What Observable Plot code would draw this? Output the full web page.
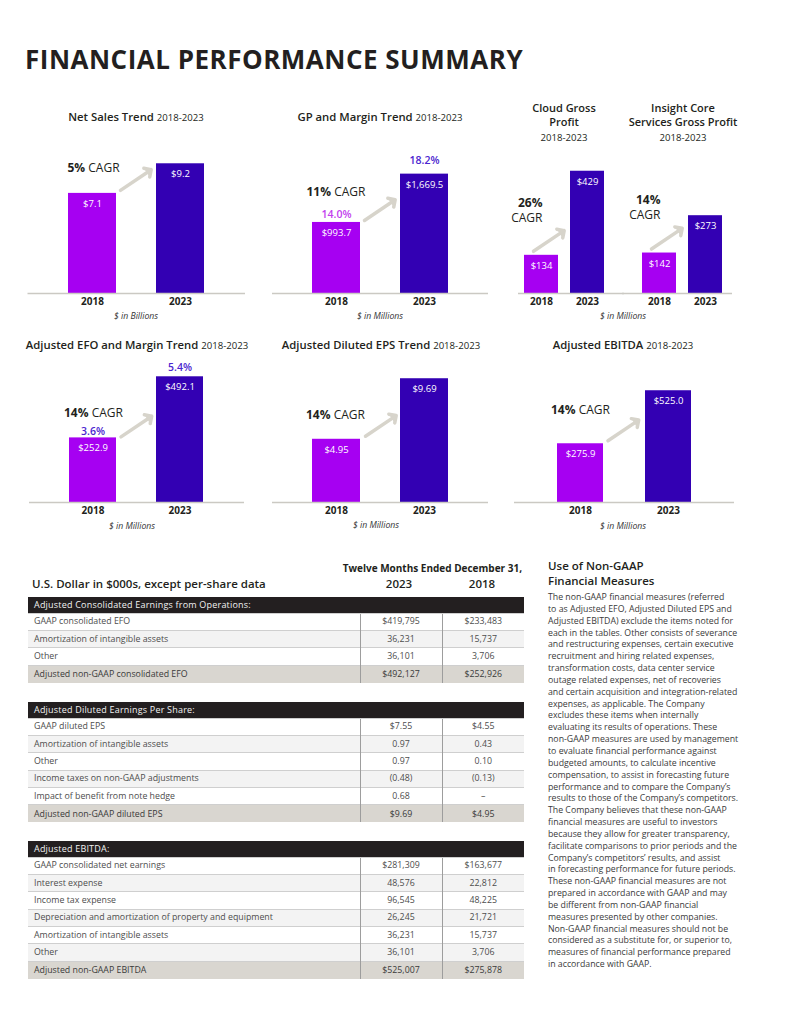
<!DOCTYPE html>
<html>
<head>
<meta charset="utf-8">
<script src="https://cdn.jsdelivr.net/npm/d3@7"></script>
<script src="https://cdn.jsdelivr.net/npm/@observablehq/plot@0.6"></script>
<style>
  body { margin: 0; background: #fff; font-family: "Open Sans", sans-serif; color: #231f20; }
  #page { position: relative; width: 786px; height: 1024px; overflow: hidden; background: #fff; }
  .chart { position: absolute; }
  .chart g[aria-label="x-axis tick label"] { font-weight: 700; font-size: 10px; }
  .t { position: absolute; white-space: nowrap; line-height: 1.2; }
  .c { transform: translate(-50%, -50%); text-align: center; }
  .l { transform: translate(0, -50%); }
  .r { transform: translate(-100%, -50%); text-align: right; }
  .ctitle { font-size: 11.3px; font-weight: 600; }
  .ctitle span { font-size: 9.6px; font-weight: 400; }
  .multi { line-height: 14.5px; font-size: 11px; }
  .cap { font-size: 8.7px; font-style: italic; color: #333; }
  .pagetitle { position: absolute; left: 25px; top: 46px; font-size: 26px; line-height: 1; font-weight: 700; letter-spacing: 0.5px; color: #231f20; white-space: nowrap; }
  table.fin { position: absolute; left: 28px; width: 496px; border-collapse: collapse; table-layout: fixed; font-size: 8.8px; color: #4d4d4d; }
  table.fin th { background: #231f20; color: #f2f2f2; font-weight: 400; text-align: left; height: 16px; padding: 0 0 0 6px; font-size: 9px; box-sizing: border-box; letter-spacing: 0.2px; }
  table.fin tr { height: 17.4px; }
  table.fin td { height: 17.4px; padding: 0 0 0 6px; border-top: 1px solid #cfcfcf; box-sizing: border-box; line-height: 1; }
  table.fin td.v { text-align: center; padding: 0; border-left: 1px solid #9d9d9d; }
  table.fin tr.alt td { background: #f3f3f3; }
  table.fin tr.total td { background: #d9d6d0; color: #3a3a3a; }
  .thead { font-weight: 600; font-size: 11.5px; color: #231f20; }
  .tsup { font-weight: 700; font-size: 10px; color: #231f20; }
  .sidehead { position: absolute; left: 548px; top: 558px; font-size: 11.5px; font-weight: 600; line-height: 15px; color: #231f20; white-space: nowrap; }
  .sidebody { position: absolute; left: 548px; top: 592px; font-size: 8.75px; line-height: 11.84px; color: #3a3a3a; white-space: nowrap; }
</style>
</head>
<body>
<div id="page"></div>
<script>
// ---------------- data ----------------
const years = ["2018", "2023"];
const netSales = [7.1, 9.2];                 // $ in billions
const grossProfit = [993.7, 1669.5];         // $ in millions
const grossMargin = [14.0, 18.2];            // %
const cloudGrossProfit = [134, 429];         // $ in millions
const coreServicesGrossProfit = [142, 273];  // $ in millions
const adjustedEFO = [252.9, 492.1];          // $ in millions
const efoMargin = [3.6, 5.4];                // %
const adjustedEPS = [4.95, 9.69];
const adjustedEBITDA = [275.9, 525.0];       // $ in millions
const cagrNetSales = 5, cagrGP = 11, cagrCloud = 26, cagrCore = 14, cagrEFO = 14, cagrEPS = 14, cagrEBITDA = 14;

const tableYears = ["2023", "2018"];
const efoLabels = ["GAAP consolidated EFO", "Amortization of intangible assets", "Other", "Adjusted non-GAAP consolidated EFO"];
const efo2023 = ["$419,795", "36,231", "36,101", "$492,127"];
const efo2018 = ["$233,483", "15,737", "3,706", "$252,926"];
const epsLabels = ["GAAP diluted EPS", "Amortization of intangible assets", "Other", "Income taxes on non-GAAP adjustments", "Impact of benefit from note hedge", "Adjusted non-GAAP diluted EPS"];
const eps2023 = ["$7.55", "0.97", "0.97", "(0.48)", "0.68", "$9.69"];
const eps2018 = ["$4.55", "0.43", "0.10", "(0.13)", "–", "$4.95"];
const ebitdaLabels = ["GAAP consolidated net earnings", "Interest expense", "Income tax expense", "Depreciation and amortization of property and equipment", "Amortization of intangible assets", "Other", "Adjusted non-GAAP EBITDA"];
const ebitda2023 = ["$281,309", "48,576", "96,545", "26,245", "36,231", "36,101", "$525,007"];
const ebitda2018 = ["$163,677", "22,812", "48,225", "21,721", "15,737", "3,706", "$275,878"];

const nonGaapLines = [
  "The non-GAAP financial measures (referred",
  "to as Adjusted EFO, Adjusted Diluted EPS and",
  "Adjusted EBITDA) exclude the items noted for",
  "each in the tables. Other consists of severance",
  "and restructuring expenses, certain executive",
  "recruitment and hiring related expenses,",
  "transformation costs, data center service",
  "outage related expenses, net of recoveries",
  "and certain acquisition and integration-related",
  "expenses, as applicable. The Company",
  "excludes these items when internally",
  "evaluating its results of operations. These",
  "non-GAAP measures are used by management",
  "to evaluate financial performance against",
  "budgeted amounts, to calculate incentive",
  "compensation, to assist in forecasting future",
  "performance and to compare the Company’s",
  "results to those of the Company’s competitors.",
  "The Company believes that these non-GAAP",
  "financial measures are useful to investors",
  "because they allow for greater transparency,",
  "facilitate comparisons to prior periods and the",
  "Company’s competitors’ results, and assist",
  "in forecasting performance for future periods.",
  "These non-GAAP financial measures are not",
  "prepared in accordance with GAAP and may",
  "be different from non-GAAP financial",
  "measures presented by other companies.",
  "Non-GAAP financial measures should not be",
  "considered as a substitute for, or superior to,",
  "measures of financial performance prepared",
  "in accordance with GAAP."
];

// ---------------- styles ----------------
const barColors = ["#a600f2", "#3300b3"];
const marginMagenta = "#c23fee";
const marginBlue = "#4b25d0";
const arrowColor = "#d7d4cb";
const ruleColor = "#cbc9c3";
const page = document.getElementById("page");

function boldCagr(svg) {
  svg.querySelectorAll("text").forEach(t => {
    if (!t.textContent.includes("CAGR")) return;
    const spans = t.querySelectorAll("tspan");
    if (spans.length) { spans[0].setAttribute("font-weight", "700"); return; }
    const [pct, word] = t.textContent.split(" ");
    t.textContent = "";
    const ns = "http://www.w3.org/2000/svg";
    const a = document.createElementNS(ns, "tspan");
    a.setAttribute("font-weight", "700"); a.textContent = pct;
    const b = document.createElementNS(ns, "tspan");
    b.textContent = " " + word;
    t.append(a, b);
  });
}

function makeChart(opt) {
  const L = opt.layout;
  const rows = [];
  opt.series.forEach(s => years.forEach((yr, i) => rows.push({
    group: s.group, year: yr, value: s.values[i],
    margin: s.margins ? s.margins[i] : null, cagr: s.cagr
  })));
  const groups = opt.series.map(s => s.group);
  const faceted = groups.length > 1;
  const fx = faceted ? "group" : undefined;
  const first = rows.filter(d => d.year === years[0]);
  const marks = [Plot.barY(rows, {fx, x: "year", y: "value", fill: "year"})];
  if (faceted) {
    // baseline continues across the gap between the two facets
    marks.push(Plot.ruleY(first.filter(d => d.group === groups[0]), {fx, y: 0, stroke: ruleColor, strokeWidth: 1.5, insetLeft: 6, insetRight: -8}));
    marks.push(Plot.ruleY(first.filter(d => d.group === groups[1]), {fx, y: 0, stroke: ruleColor, strokeWidth: 1.5, insetLeft: -8, insetRight: 2}));
  } else {
    marks.push(Plot.ruleY([0], {stroke: ruleColor, strokeWidth: 1.5}));
  }
  marks.push(
    Plot.text(rows, {fx, x: "year", y: "value", text: d => opt.format(d.value), fill: "white", dy: 10.5, fontSize: 9.5}),
    Plot.vector(first, {fx, x: "year", y: "value", anchor: "start", length: 37, rotate: 56, r: 2.5,
      stroke: arrowColor, fill: arrowColor, strokeWidth: 3.5, dx: L.arrowDx, dy: L.arrowDy}),
    Plot.text(first, {fx, x: "year", y: "value",
      text: d => faceted ? `${d.cagr}%\nCAGR` : `${d.cagr}% CAGR`,
      textAnchor: L.cagrAnchor, dx: L.cagrDx, dy: L.cagrDy, fontSize: 12, lineHeight: 1.25, fill: "#231f20"})
  );
  if (opt.marginColors) {
    years.forEach((yr, i) => marks.push(
      Plot.text(rows.filter(d => d.year === yr && d.margin != null), {fx, x: "year", y: "value",
        text: d => d.margin.toFixed(1) + "%", fill: opt.marginColors[i], dy: L.marginDy[i], fontSize: 10.5, fontWeight: 600})
    ));
  }
  const plotOpts = {
    width: L.width, height: L.height,
    marginLeft: L.marginLeft, marginRight: L.marginRight, marginTop: L.marginTop, marginBottom: L.marginBottom,
    x: {domain: years, padding: L.padding, tickSize: 0, tickPadding: 4, label: null},
    y: {domain: [0, L.yMax], axis: null},
    color: {domain: years, range: barColors},
    style: {fontFamily: '"Open Sans", sans-serif', fontSize: "10px", color: "#231f20", background: "transparent", overflow: "visible"},
    marks
  };
  if (faceted) plotOpts.fx = {domain: groups, axis: null, paddingInner: L.fxPaddingInner, paddingOuter: 0};
  const svg = Plot.plot(plotOpts);
  svg.classList.add("chart");
  svg.style.left = L.left + "px";
  svg.style.top = L.top + "px";
  boldCagr(svg);
  page.appendChild(svg);
}

const fmt1 = v => "$" + d3.format(",.1f")(v);
const fmt0 = v => "$" + d3.format(",.0f")(v);
const fmt2 = v => "$" + d3.format(".2f")(v);

makeChart({
  series: [{group: "Net Sales", values: netSales, cagr: cagrNetSales}], format: fmt1,
  layout: {left: 0, top: 140, width: 270, height: 185, marginLeft: 27.5, marginRight: 25, marginTop: 12, marginBottom: 32,
    yMax: 10, padding: 0.458, arrowDx: 28, arrowDy: -3, cagrAnchor: "start", cagrDx: -25, cagrDy: -26}
});
makeChart({
  series: [{group: "GP", values: grossProfit, margins: grossMargin, cagr: cagrGP}], format: fmt1,
  marginColors: [marginMagenta, marginBlue],
  layout: {left: 250, top: 140, width: 260, height: 185, marginLeft: 22, marginRight: 22, marginTop: 10, marginBottom: 32,
    yMax: 2000, padding: 0.4545, arrowDx: 28, arrowDy: -2, cagrAnchor: "start", cagrDx: -30, cagrDy: -31, marginDy: [-8, -14]}
});
makeChart({
  series: [
    {group: "Cloud Gross Profit", values: cloudGrossProfit, cagr: cagrCloud},
    {group: "Insight Core Services Gross Profit", values: coreServicesGrossProfit, cagr: cagrCore}
  ], format: fmt0,
  layout: {left: 500, top: 140, width: 250, height: 185, marginLeft: 12, marginRight: 16, marginTop: 10.5, marginBottom: 32,
    yMax: 500, padding: 0.26, fxPaddingInner: 0.119, arrowDx: -8, arrowDy: -4, cagrAnchor: "end", cagrDx: 1, cagrDy: -46}
});
makeChart({
  series: [{group: "EFO", values: adjustedEFO, margins: efoMargin, cagr: cagrEFO}], format: fmt1,
  marginColors: [marginBlue, marginBlue],
  layout: {left: 0, top: 350, width: 270, height: 184, marginLeft: 29, marginRight: 26, marginTop: 11.5, marginBottom: 32,
    yMax: 550, padding: 0.457, arrowDx: 28, arrowDy: -1, cagrAnchor: "start", cagrDx: -29, cagrDy: -26, marginDy: [-6, -9]}
});
makeChart({
  series: [{group: "EPS", values: adjustedEPS, cagr: cagrEPS}], format: fmt2,
  layout: {left: 250, top: 350, width: 260, height: 184, marginLeft: 22, marginRight: 22, marginTop: 11.5, marginBottom: 32,
    yMax: 11, padding: 0.4545, arrowDx: 29, arrowDy: -3, cagrAnchor: "start", cagrDx: -30.5, cagrDy: -25}
});
makeChart({
  series: [{group: "EBITDA", values: adjustedEBITDA, cagr: cagrEBITDA}], format: fmt1,
  layout: {left: 500, top: 350, width: 250, height: 184, marginLeft: 14, marginRight: 16, marginTop: 11.5, marginBottom: 32,
    yMax: 660, padding: 0.472, arrowDx: 27.5, arrowDy: -3, cagrAnchor: "start", cagrDx: -29.5, cagrDy: -35}
});

// ---------------- text overlays ----------------
function addText(html, cls, x, y) {
  const d = document.createElement("div");
  d.className = "t " + cls;
  d.style.left = x + "px"; d.style.top = y + "px";
  d.innerHTML = html;
  page.appendChild(d);
}
const pt = document.createElement("div");
pt.className = "pagetitle"; pt.textContent = "FINANCIAL PERFORMANCE SUMMARY";
page.appendChild(pt);

addText('Net Sales Trend <span>2018-2023</span>', "c ctitle", 136, 117);
addText('GP and Margin Trend <span>2018-2023</span>', "c ctitle", 380, 117);
addText('Cloud Gross<br>Profit<br><span>2018-2023</span>', "c ctitle multi", 564, 122.5);
addText('Insight Core<br>Services Gross Profit<br><span>2018-2023</span>', "c ctitle multi", 683, 122.5);
addText('Adjusted EFO and Margin Trend <span>2018-2023</span>', "c ctitle", 137, 345);
addText('Adjusted Diluted EPS Trend <span>2018-2023</span>', "c ctitle", 381, 345);
addText('Adjusted EBITDA <span>2018-2023</span>', "c ctitle", 623, 345);

addText('$ in Billions', "c cap", 136, 316);
addText('$ in Millions', "c cap", 380, 316);
addText('$ in Millions', "c cap", 623, 316);
addText('$ in Millions', "c cap", 132, 526);
addText('$ in Millions', "c cap", 376, 525);
addText('$ in Millions', "c cap", 623, 526);

// ---------------- tables ----------------
addText('Twelve Months Ended December 31,', "r tsup", 522, 568);
addText('U.S. Dollar in $000s, except per-share data', "l thead", 32, 584);
addText(tableYears[0], "c thead", 399, 584);
addText(tableYears[1], "c thead", 482, 584);

function buildTable(top, heading, labels, v23, v18) {
  const t = document.createElement("table");
  t.className = "fin"; t.style.top = top + "px";
  let html = '<colgroup><col style="width:332px"><col style="width:82px"><col style="width:82px"></colgroup>';
  html += `<tr class="hd" style="height:16px"><th colspan="3">${heading}</th></tr>`;
  labels.forEach((lab, i) => {
    const cls = i === labels.length - 1 ? "total" : (i % 2 ? "alt" : "");
    html += `<tr class="${cls}"><td>${lab}</td><td class="v">${v23[i]}</td><td class="v">${v18[i]}</td></tr>`;
  });
  t.innerHTML = html;
  page.appendChild(t);
}
buildTable(597, "Adjusted Consolidated Earnings from Operations:", efoLabels, efo2023, efo2018);
buildTable(702, "Adjusted Diluted Earnings Per Share:", epsLabels, eps2023, eps2018);
buildTable(841, "Adjusted EBITDA:", ebitdaLabels, ebitda2023, ebitda2018);

// ---------------- side text ----------------
const sh = document.createElement("div");
sh.className = "sidehead"; sh.innerHTML = "Use of Non-GAAP<br>Financial Measures";
page.appendChild(sh);
const sb = document.createElement("div");
sb.className = "sidebody"; sb.innerHTML = nonGaapLines.join("<br>");
page.appendChild(sb);
</script>
</body>
</html>
